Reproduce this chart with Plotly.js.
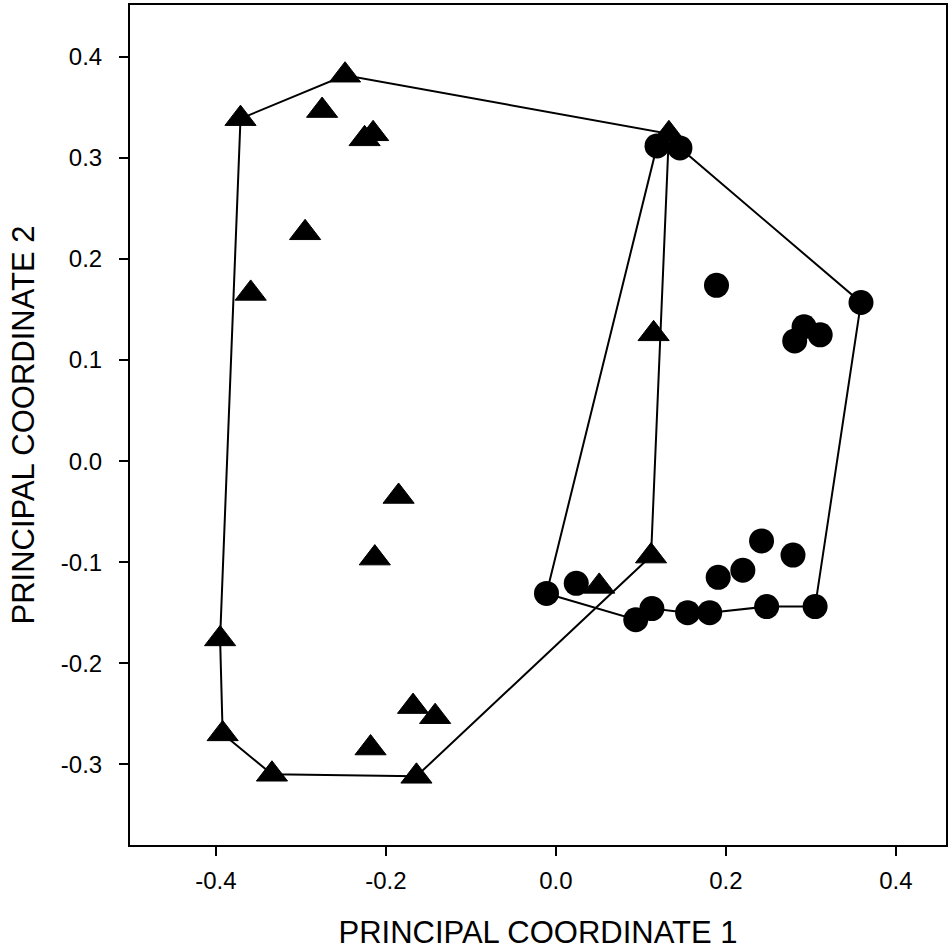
<!DOCTYPE html>
<html>
<head>
<meta charset="utf-8">
<script src="https://cdn.plot.ly/plotly-3.0.1.min.js"></script>
<style>html,body{margin:0;padding:0;background:#fff;}#chart{width:949px;height:950px;}</style>
</head>
<body>
<div id="chart"></div>
<script>
// Group 1 (triangles)
var triX = [-0.371, -0.248, -0.275, -0.225, -0.215, -0.295, -0.359, 0.133, 0.115, -0.185,
            -0.213, 0.112, 0.051, -0.395, -0.392, -0.334, -0.164, -0.218, -0.168, -0.142];
var triY = [0.339, 0.382, 0.347, 0.319, 0.324, 0.226, 0.166, 0.324, 0.126, -0.035,
            -0.096, -0.094, -0.124, -0.176, -0.270, -0.310, -0.312, -0.284, -0.243, -0.253];
// Group 2 (circles)
var cirX = [0.119, 0.146, 0.359, 0.189, 0.292, 0.281, 0.311, -0.011, 0.024, 0.094,
            0.113, 0.155, 0.181, 0.248, 0.305, 0.242, 0.279, 0.220, 0.191];
var cirY = [0.312, 0.310, 0.157, 0.174, 0.133, 0.119, 0.125, -0.131, -0.121, -0.157,
            -0.146, -0.150, -0.150, -0.144, -0.144, -0.079, -0.093, -0.108, -0.115];
// Convex hull vertex order (indices into the arrays above)
var triHull = [13, 0, 1, 7, 11, 16, 15, 14, 13];
var cirHull = [7, 0, 1, 2, 14, 13, 12, 11, 10, 9, 7];

var xTicks = [-0.4, -0.2, 0.0, 0.2, 0.4];
var xTickText = ['-0.4', '-0.2', '0.0', '0.2', '0.4'];
var yTicks = [-0.3, -0.2, -0.1, 0.0, 0.1, 0.2, 0.3, 0.4];
var yTickText = ['-0.3', '-0.2', '-0.1', '0.0', '0.1', '0.2', '0.3', '0.4'];

function pick(arr, idx) { return idx.map(function (i) { return arr[i]; }); }

var traces = [
  {x: pick(triX, triHull), y: pick(triY, triHull), mode: 'lines', type: 'scatter',
   line: {color: '#000', width: 2}, hoverinfo: 'skip'},
  {x: pick(cirX, cirHull), y: pick(cirY, cirHull), mode: 'lines', type: 'scatter',
   line: {color: '#000', width: 2}, hoverinfo: 'skip'},
  {x: triX, y: triY, mode: 'markers', type: 'scatter',
   marker: {symbol: 'triangle-up', size: 27, color: '#000', line: {color: '#000', width: 1}}},
  {x: cirX, y: cirY, mode: 'markers', type: 'scatter',
   marker: {symbol: 'circle', size: 25, color: '#000', line: {width: 0}}}
];

var fontFam = 'Liberation Sans, Arial, sans-serif';
var layout = {
  width: 949, height: 950,
  margin: {l: 130, r: 3, t: 5, b: 105},
  paper_bgcolor: '#fff', plot_bgcolor: '#fff',
  showlegend: false,
  font: {family: fontFam, color: '#000'},
  xaxis: {
    range: [-0.501, 0.459], tickvals: xTicks, ticktext: xTickText,
    ticks: 'outside', ticklen: 9, tickwidth: 2, tickcolor: '#000',
    showline: true, linecolor: '#000', linewidth: 2, mirror: true,
    showgrid: false, zeroline: false, ticklabelstandoff: 4,
    tickfont: {size: 24, family: fontFam, color: '#000'},
    title: {text: 'PRINCIPAL COORDINATE 1', font: {size: 31, family: fontFam, color: '#000'}, standoff: 39}
  },
  yaxis: {
    range: [-0.380, 0.4515], tickvals: yTicks, ticktext: yTickText,
    ticks: 'outside', ticklen: 9, tickwidth: 2, tickcolor: '#000',
    showline: true, linecolor: '#000', linewidth: 2, mirror: true,
    showgrid: false, zeroline: false, ticklabelstandoff: 12,
    tickfont: {size: 24, family: fontFam, color: '#000'},
    title: {text: 'PRINCIPAL COORDINATE 2', font: {size: 31, family: fontFam, color: '#000'}, standoff: 17}
  }
};

Plotly.newPlot('chart', traces, layout, {displayModeBar: false, staticPlot: true});
</script>
</body>
</html>
